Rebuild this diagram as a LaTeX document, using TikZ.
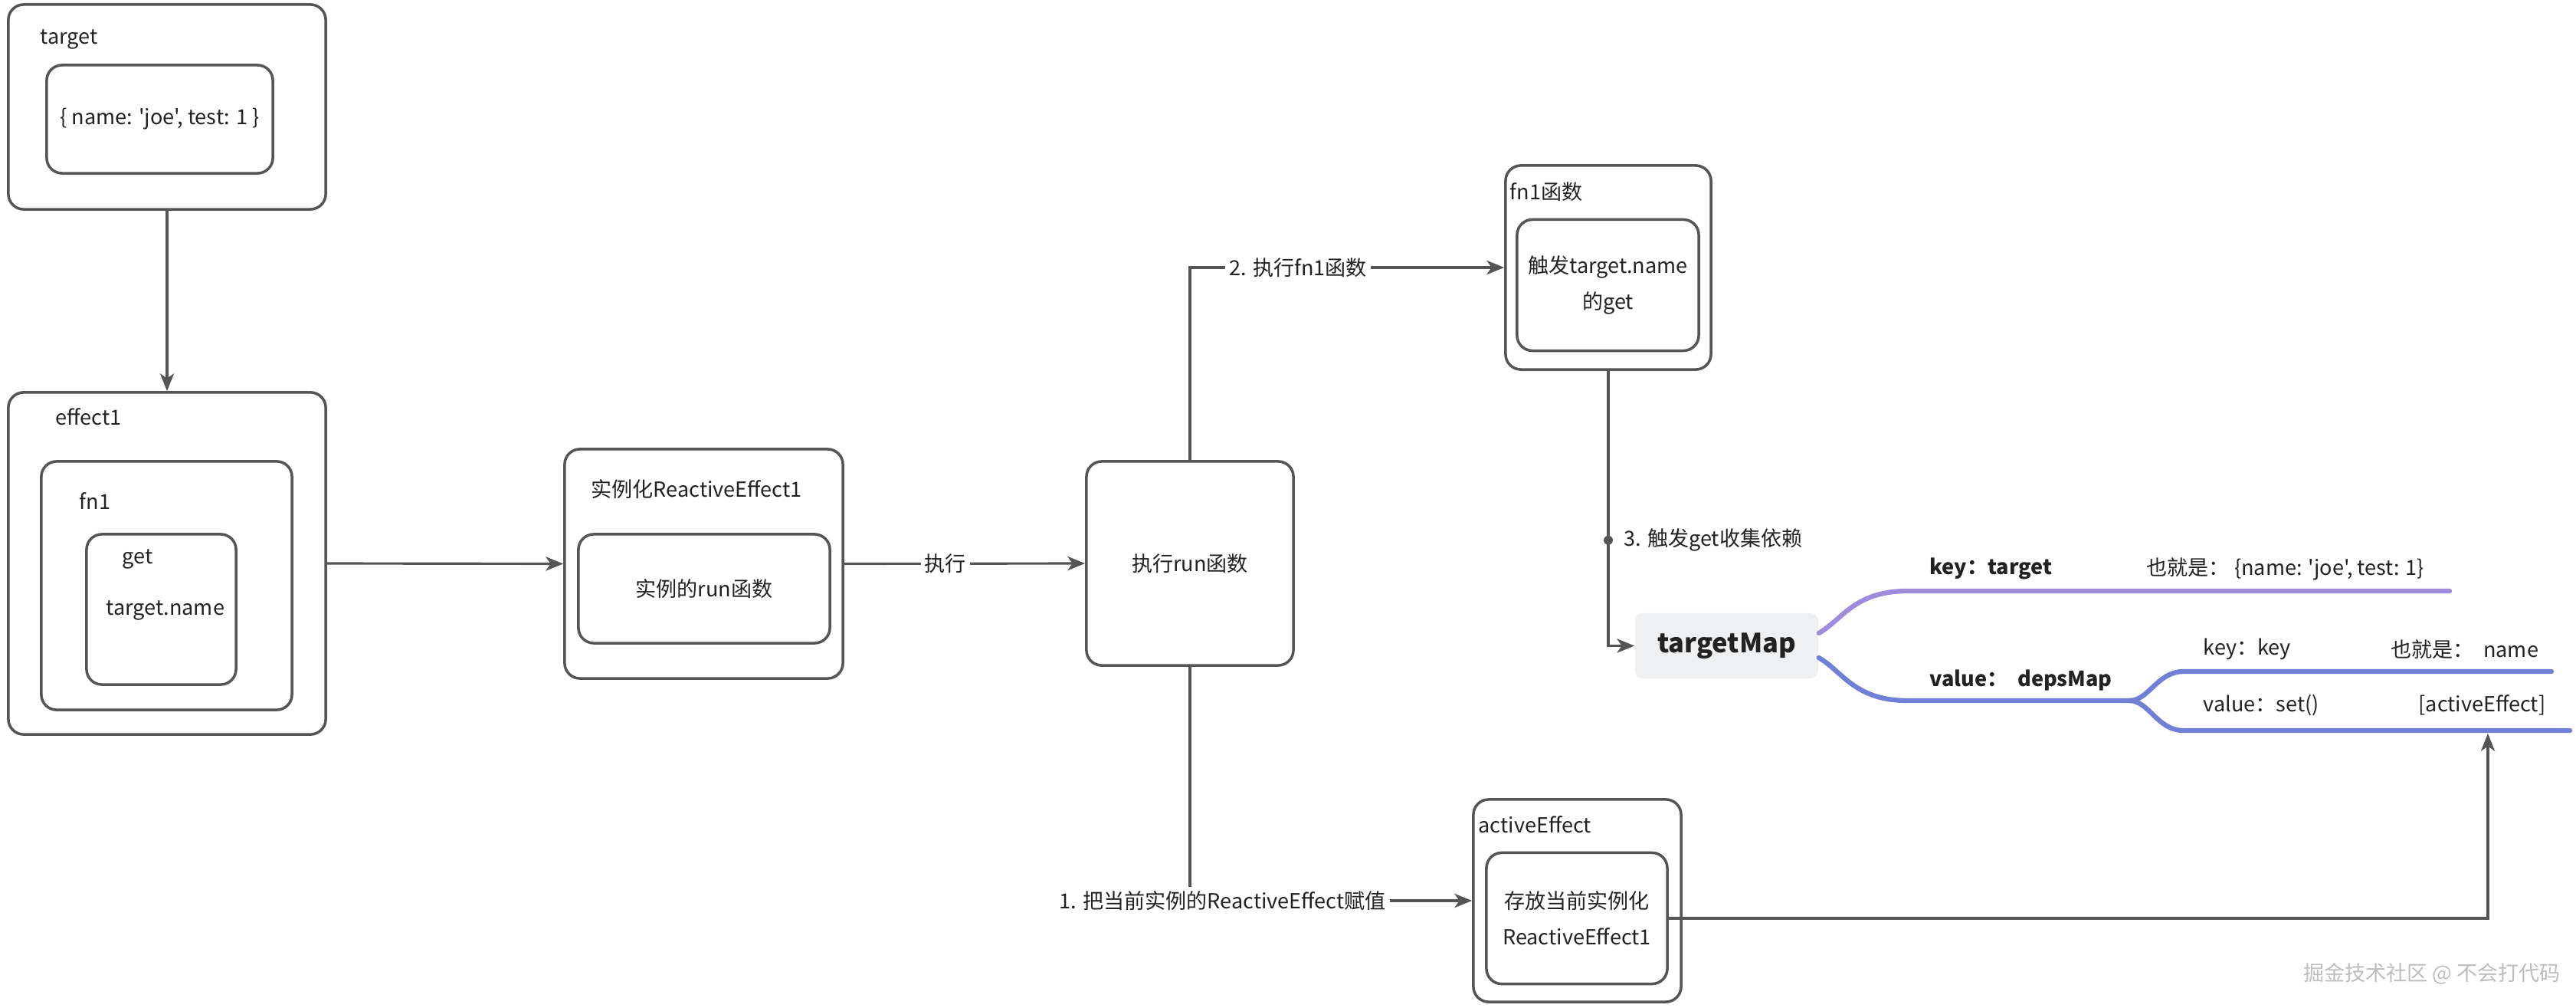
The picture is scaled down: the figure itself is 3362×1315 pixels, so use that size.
\documentclass[tikz,border=0pt]{standalone}
\usepackage{fontspec}
\setmainfont{Noto Sans CJK SC}[Ligatures=TeXOff]
\usetikzlibrary{arrows.meta}
\definecolor{edgegray}{HTML}{555555}
\definecolor{txtgray}{HTML}{222222}
\definecolor{mapfill}{HTML}{EFF0F1}
\definecolor{keypurple}{HTML}{A08CDC}
\definecolor{valblue}{HTML}{6F80D6}
\definecolor{markgray}{HTML}{BDBDBD}
\begin{document}
\begin{tikzpicture}[x=0.01cm,y=-0.01cm,
    every node/.style={font=\fontsize{7.7}{13.4}\selectfont,text=txtgray,inner sep=0pt},
    box/.style={draw=edgegray,line width=1pt,rounded corners=0.2cm},
    lbl/.style={anchor=west},
    tag/.style={fill=white,inner sep=1.5pt},
    arr/.style={draw=edgegray,line width=0.9pt,-{Stealth[length=6.5pt,width=5.2pt,inset=1.8pt]}},
    branch/.style={line width=1.8pt,line cap=round}]
  \useasboundingbox (0,0) rectangle (3362,1315);
  \node[box,minimum width=4.14cm,minimum height=2.67cm] (tgt) at (218,139.5) {};
  \node[lbl] (tgtlbl) at (52,51) {target};
  \node[box,minimum width=2.95cm,minimum height=1.41cm] (tgtobj) at (208.5,155.5) {\{ name: 'joe', test: 1 \}};
  \node[box,minimum width=4.14cm,minimum height=4.46cm] (eff) at (218,735) {};
  \node[lbl] (efflbl) at (72,544) {effect1};
  \node[box,minimum width=3.27cm,minimum height=3.24cm] (fnone) at (217.5,764) {};
  \node[lbl] (fnlbl) at (103,654) {fn1};
  \node[box,minimum width=1.95cm,minimum height=1.96cm] (getbox) at (210.5,795) {};
  \node[lbl] (getlbl) at (159,729) {get};
  \node[lbl] (namelbl) at (138,796) {target.name};
  \node[box,minimum width=3.63cm,minimum height=2.99cm] (inst) at (918.5,735.5) {};
  \node[lbl] (instlbl) at (771,638) {实例化ReactiveEffect1};
  \node[box,minimum width=3.28cm,minimum height=1.42cm] (runinst) at (919,768) {实例的run函数};
  \node[box,minimum width=2.70cm,minimum height=2.66cm] (runfn) at (1553,735) {执行run函数};
  \node[box,minimum width=2.68cm,minimum height=2.66cm] (fnfun) at (2099,349) {};
  \node[lbl] (fnfunlbl) at (1970,250) {fn1函数};
  \node[box,minimum width=2.37cm,minimum height=1.71cm,align=center] (trig) at (2098.5,372) {触发target.name\\的get};
  \node[fill=mapfill,rounded corners=0.1cm,minimum width=2.39cm,minimum height=0.85cm,font=\fontsize{9.8}{12}\selectfont\bfseries] (tmap) at (2253.5,842.5) {targetMap};
  \node[box,minimum width=2.71cm,minimum height=2.64cm] (act) at (2058.5,1175) {};
  \node[lbl] (actlbl) at (1929,1076) {activeEffect};
  \node[box,minimum width=2.36cm,minimum height=1.71cm,align=center] (store) at (2058,1198) {存放当前实例化\\ReactiveEffect1};
  \coordinate (kt) at (3197,771);
  \coordinate (fork) at (2779,914);
  \coordinate (kk) at (3330,876);
  \coordinate (vs) at (3354,953);
  \coordinate (setend) at (3247,957);
  \draw[arr] (tgt) -- (eff);
  \draw[arr] (eff.east) -- (inst.west);
  \draw[arr] (inst.east) -- node[tag,pos=0.42] {执行} (runfn.west);
  \draw[arr] (runfn.north) |- node[tag,pos=0.672] {2. 执行fn1函数} (fnfun.west);
  \draw[arr] (fnfun.south) |- node[pos=0.308,circle,fill=edgegray,inner sep=1.2pt] {} node[pos=0.308,anchor=west,xshift=0.19cm] {3. 触发get收集依赖} (tmap.west);
  \draw[arr] (runfn.south) |- node[tag,pos=0.558] {1. 把当前实例的ReactiveEffect赋值} (act.west);
  \draw[arr] (store.east) -| (setend);
  \draw[branch,draw=keypurple] ([yshift=1.65mm]tmap.east) .. controls (2405,808) and (2420,771) .. (2490,771) -- (kt);
  \draw[branch,draw=valblue] ([yshift=-1.55mm]tmap.east) .. controls (2405,876) and (2420,914) .. (2490,914) -- (fork);
  \draw[branch,draw=valblue] (fork) .. controls (2805,914) and (2815,876) .. (2850,876) -- (kk);
  \draw[branch,draw=valblue] (fork) .. controls (2805,914) and (2815,953) .. (2850,953) -- (vs);
  \node[lbl,font=\fontsize{7.7}{13.4}\selectfont\bfseries] (keyt) at (2518,742) {key：target};
  \node[lbl] (keytv) at (2801,742) {也就是： \{name: 'joe', test: 1\}};
  \node[lbl,font=\fontsize{7.7}{13.4}\selectfont\bfseries] (valt) at (2518,887) {value：\ \ depsMap};
  \node[lbl] (keyk) at (2875,847) {key：key};
  \node[lbl] (keykv) at (3120,847) {也就是：\ \ name};
  \node[lbl] (vals) at (2875,920) {value：set()};
  \node[lbl] (valsv) at (3156,920) {[activeEffect]};
  \node[text=markgray] (mark) at (3174,1270) {掘金技术社区 @ 不会打代码};
\end{tikzpicture}
\end{document}
